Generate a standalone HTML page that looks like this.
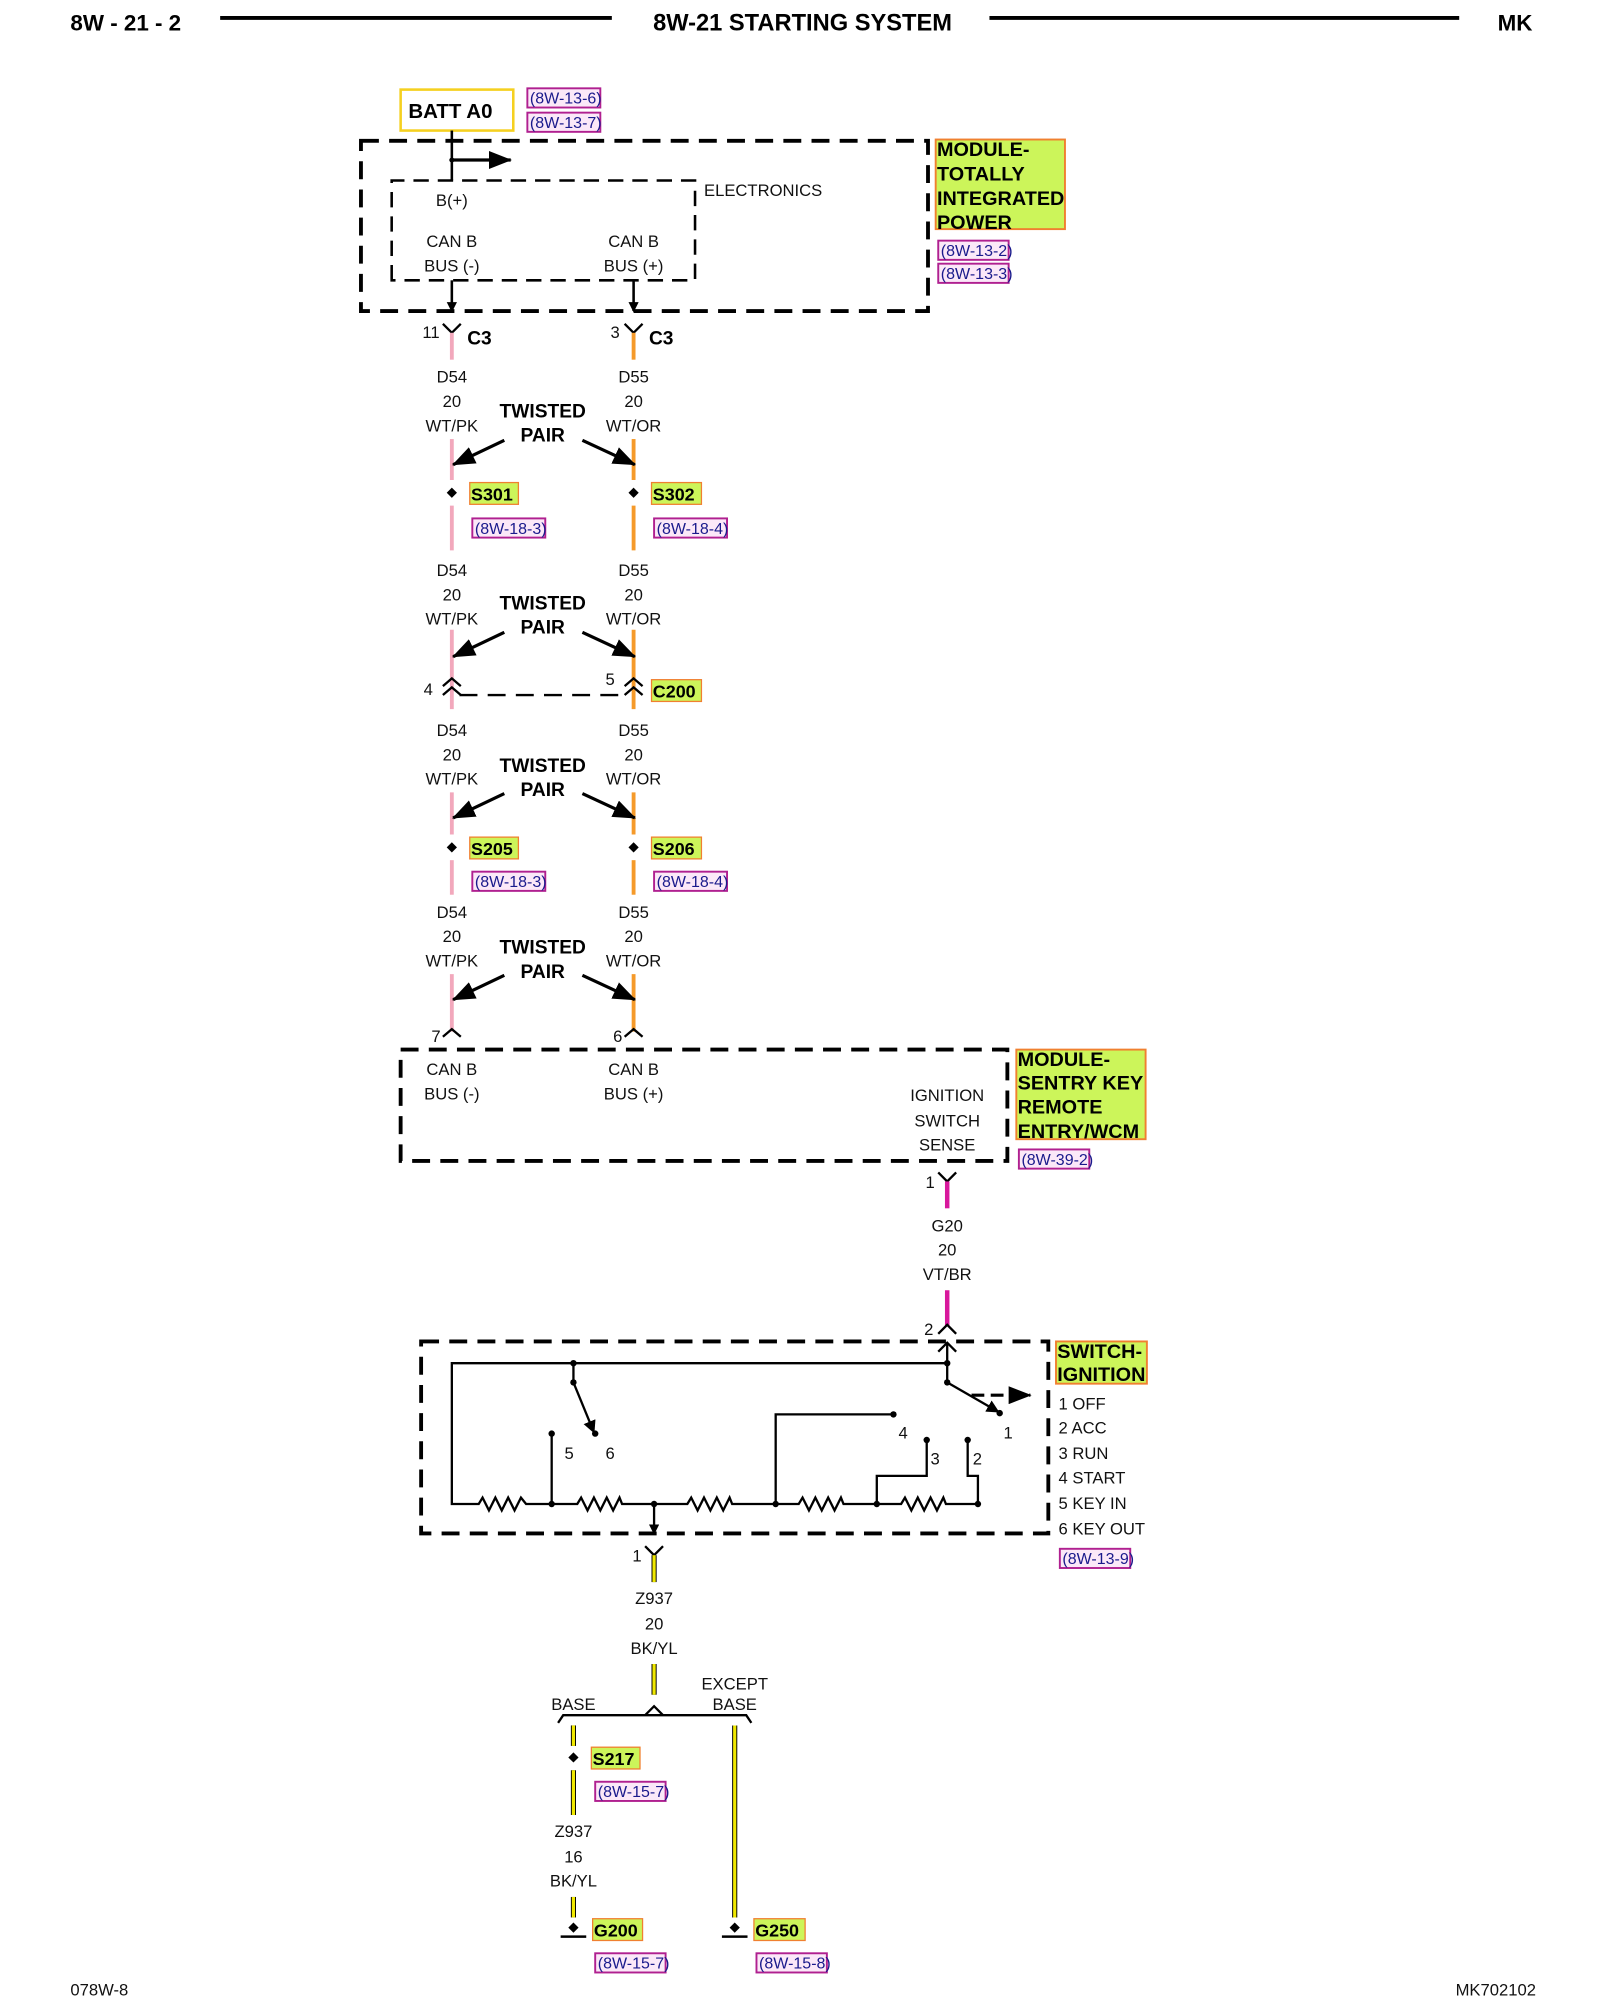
<!DOCTYPE html>
<html><head><meta charset="utf-8"><style>
html,body{margin:0;padding:0;background:#fff;}
svg{display:block;}
text{font-family:"Liberation Sans",sans-serif;}
.t{font-size:13px;fill:#111;}
.b{font-weight:bold;fill:#000;}
.r{font-size:12.5px;fill:#1a1a8c;}
.c{text-anchor:middle;}
</style></head><body>
<svg width="1600" height="2000" viewBox="0 0 1250 1562.5" xmlns="http://www.w3.org/2000/svg">
<defs>
<marker id="ah" markerWidth="10" markerHeight="10" refX="9" refY="5" orient="auto" markerUnits="userSpaceOnUse"><path d="M0,0 L10,5 L0,10 Z" fill="#000"/></marker>
<marker id="ab" markerWidth="18" markerHeight="14" refX="17" refY="7" orient="auto" markerUnits="userSpaceOnUse"><path d="M0,0 L18,7 L0,14 Z" fill="#000"/></marker>
<marker id="as" markerWidth="8" markerHeight="8" refX="7" refY="4" orient="auto" markerUnits="userSpaceOnUse"><path d="M0,0 L8,4 L0,8 Z" fill="#000"/></marker>
</defs>
<!-- header -->
<text x="55" y="24" class="b" font-size="17.5">8W - 21 - 2</text>
<line x1="172" y1="14" x2="478" y2="14" stroke="#000" stroke-width="3"/>
<text x="627" y="24" class="b c" font-size="18.5">8W-21 STARTING SYSTEM</text>
<line x1="773" y1="14" x2="1140" y2="14" stroke="#000" stroke-width="3"/>
<text x="1170" y="24" class="b" font-size="17.5">MK</text>
<text x="55" y="1559" class="t" font-size="12">078W-8</text>
<text x="1200" y="1559" class="t" font-size="12" text-anchor="end">MK702102</text>

<g transform="translate(-1,-2)">
<!-- BATT -->
<rect x="314" y="72" width="88" height="32" fill="#fff" stroke="#f5d020" stroke-width="2"/>
<text x="320" y="94" class="b" font-size="16">BATT A0</text>
<rect x="413" y="71" width="57" height="15" fill="#fbe8f8" stroke="#b02090" stroke-width="1.5"/><text x="415" y="83" class="r">(8W-13-6)</text>
<rect x="413" y="90" width="57" height="15" fill="#fbe8f8" stroke="#b02090" stroke-width="1.5"/><text x="415" y="102" class="r">(8W-13-7)</text>
<!-- TIPM -->
<rect x="283" y="112" width="443" height="133" fill="none" stroke="#000" stroke-width="3" stroke-dasharray="14 8"/>
<path d="M307,221 V143 H544 V221 Z" fill="none" stroke="#000" stroke-width="2" stroke-dasharray="12 7"/>
<line x1="354" y1="104" x2="354" y2="143" stroke="#000" stroke-width="2"/>
<line x1="354" y1="127" x2="400" y2="127" stroke="#000" stroke-width="2.5" marker-end="url(#ab)"/>
<circle cx="354" cy="127" r="2" fill="#000"/>
<text x="354" y="163" class="t c">B(+)</text>
<text x="354" y="195" class="t c">CAN B</text><text x="354" y="214" class="t c">BUS (-)</text>
<text x="496" y="195" class="t c">CAN B</text><text x="496" y="214" class="t c">BUS (+)</text>
<text x="551" y="155" class="t">ELECTRONICS</text>
<line x1="354" y1="221" x2="354" y2="245" stroke="#000" stroke-width="2" marker-end="url(#as)"/>
<line x1="496" y1="221" x2="496" y2="245" stroke="#000" stroke-width="2" marker-end="url(#as)"/>
<rect x="732" y="111" width="101" height="70" fill="#ccf55a" stroke="#f08030" stroke-width="1.5"/>
<text class="b" font-size="15.5"><tspan x="733" y="124">MODULE-</tspan><tspan x="733" y="143">TOTALLY</tspan><tspan x="733" y="162">INTEGRATED</tspan><tspan x="733" y="181">POWER</tspan></text>
<rect x="734" y="190" width="55" height="15" fill="#fbe8f8" stroke="#b02090" stroke-width="1.5"/><text x="736" y="202" class="r">(8W-13-2)</text>
<rect x="734" y="208" width="55" height="15" fill="#fbe8f8" stroke="#b02090" stroke-width="1.5"/><text x="736" y="220" class="r">(8W-13-3)</text>

<!-- C3 -->
<path d="M347,255 L354,262 L361,255 M354,262 V268" fill="none" stroke="#000" stroke-width="1.8"/>
<path d="M489,255 L496,262 L503,255 M496,262 V268" fill="none" stroke="#000" stroke-width="1.8"/>
<text x="331" y="266" class="t" font-size="12">11</text><text x="366" y="271" class="b" font-size="15">C3</text>
<text x="478" y="266" class="t" font-size="12">3</text><text x="508" y="271" class="b" font-size="15">C3</text>
<g stroke-width="3">
<line x1="354" y1="262" x2="354" y2="283" stroke="#f2a8bc"/>
<line x1="496" y1="262" x2="496" y2="283" stroke="#f59a2a"/>
<line x1="354" y1="345" x2="354" y2="377" stroke="#f2a8bc"/><line x1="496" y1="345" x2="496" y2="377" stroke="#f59a2a"/>
<line x1="354" y1="397" x2="354" y2="432" stroke="#f2a8bc"/><line x1="496" y1="397" x2="496" y2="432" stroke="#f59a2a"/>
<line x1="354" y1="494" x2="354" y2="556" stroke="#f2a8bc"/><line x1="496" y1="494" x2="496" y2="556" stroke="#f59a2a"/>
<line x1="354" y1="621" x2="354" y2="654" stroke="#f2a8bc"/><line x1="496" y1="621" x2="496" y2="654" stroke="#f59a2a"/>
<line x1="354" y1="674" x2="354" y2="701" stroke="#f2a8bc"/><line x1="496" y1="674" x2="496" y2="701" stroke="#f59a2a"/>
<line x1="354" y1="763" x2="354" y2="808" stroke="#f2a8bc"/><line x1="496" y1="763" x2="496" y2="808" stroke="#f59a2a"/>
</g>
<g class="t c">
<text x="354" y="301">D54</text><text x="354" y="320">20</text><text x="354" y="339">WT/PK</text>
<text x="496" y="301">D55</text><text x="496" y="320">20</text><text x="496" y="339">WT/OR</text>
<text x="354" y="452">D54</text><text x="354" y="471">20</text><text x="354" y="490">WT/PK</text>
<text x="496" y="452">D55</text><text x="496" y="471">20</text><text x="496" y="490">WT/OR</text>
<text x="354" y="577">D54</text><text x="354" y="596">20</text><text x="354" y="615">WT/PK</text>
<text x="496" y="577">D55</text><text x="496" y="596">20</text><text x="496" y="615">WT/OR</text>
<text x="354" y="719">D54</text><text x="354" y="738">20</text><text x="354" y="757">WT/PK</text>
<text x="496" y="719">D55</text><text x="496" y="738">20</text><text x="496" y="757">WT/OR</text>
</g>
<g class="b c" font-size="15">
<text x="425" y="328">TWISTED</text><text x="425" y="347">PAIR</text>
<text x="425" y="478">TWISTED</text><text x="425" y="497">PAIR</text>
<text x="425" y="605">TWISTED</text><text x="425" y="624">PAIR</text>
<text x="425" y="747">TWISTED</text><text x="425" y="766">PAIR</text>
</g>
<g stroke="#000" stroke-width="2.5">
<line x1="395" y1="346" x2="355" y2="365" marker-end="url(#ab)"/><line x1="456" y1="346" x2="497" y2="365" marker-end="url(#ab)"/>
<line x1="395" y1="496" x2="355" y2="515" marker-end="url(#ab)"/><line x1="456" y1="496" x2="497" y2="515" marker-end="url(#ab)"/>
<line x1="395" y1="622" x2="355" y2="641" marker-end="url(#ab)"/><line x1="456" y1="622" x2="497" y2="641" marker-end="url(#ab)"/>
<line x1="395" y1="764" x2="355" y2="783" marker-end="url(#ab)"/><line x1="456" y1="764" x2="497" y2="783" marker-end="url(#ab)"/>
</g>
<g fill="#000">
<path d="M354,383 l4,4 l-4,4 l-4,-4z"/><path d="M496,383 l4,4 l-4,4 l-4,-4z"/>
<path d="M354,660 l4,4 l-4,4 l-4,-4z"/><path d="M496,660 l4,4 l-4,4 l-4,-4z"/>
</g>
<g font-size="14" class="b">
<rect x="368" y="379" width="38" height="17" fill="#ccf55a" stroke="#f08030"/><text x="369" y="393">S301</text>
<rect x="510" y="379" width="39" height="17" fill="#ccf55a" stroke="#f08030"/><text x="511" y="393">S302</text>
<rect x="368" y="656" width="38" height="17" fill="#ccf55a" stroke="#f08030"/><text x="369" y="670">S205</text>
<rect x="510" y="656" width="39" height="17" fill="#ccf55a" stroke="#f08030"/><text x="511" y="670">S206</text>
<rect x="510" y="533" width="39" height="17" fill="#ccf55a" stroke="#f08030"/><text x="511" y="547">C200</text>
</g>
<rect x="370" y="407" width="57" height="15" fill="#fbe8f8" stroke="#b02090" stroke-width="1.5"/><text x="372" y="419" class="r">(8W-18-3)</text>
<rect x="512" y="407" width="57" height="15" fill="#fbe8f8" stroke="#b02090" stroke-width="1.5"/><text x="514" y="419" class="r">(8W-18-4)</text>
<rect x="370" y="683" width="57" height="15" fill="#fbe8f8" stroke="#b02090" stroke-width="1.5"/><text x="372" y="695" class="r">(8W-18-3)</text>
<rect x="512" y="683" width="57" height="15" fill="#fbe8f8" stroke="#b02090" stroke-width="1.5"/><text x="514" y="695" class="r">(8W-18-4)</text>
<g fill="none" stroke="#000" stroke-width="1.8">
<path d="M347,538 l7,-6 l7,6 M347,545 l7,-6 l7,6"/>
<path d="M489,538 l7,-6 l7,6 M489,545 l7,-6 l7,6"/>
<line x1="360" y1="545" x2="490" y2="545" stroke-dasharray="14 8"/>
<path d="M347,812 l7,-6 l7,6"/><path d="M489,812 l7,-6 l7,6"/>
</g>
<text x="332" y="545" class="t">4</text><text x="474" y="537" class="t">5</text>
<text x="338" y="816" class="t" font-size="12">7</text><text x="480" y="816" class="t" font-size="12">6</text>

<!-- WCM -->
<rect x="314" y="822" width="474" height="87" fill="none" stroke="#000" stroke-width="3" stroke-dasharray="14 8"/>
<text x="354" y="842" class="t c">CAN B</text><text x="354" y="861" class="t c">BUS (-)</text>
<text x="496" y="842" class="t c">CAN B</text><text x="496" y="861" class="t c">BUS (+)</text>
<text x="741" y="862" class="t c">IGNITION</text><text x="741" y="882" class="t c">SWITCH</text><text x="741" y="901" class="t c">SENSE</text>
<rect x="795" y="822" width="101" height="70" fill="#ccf55a" stroke="#f08030" stroke-width="1.5"/>
<text class="b" font-size="15.5"><tspan x="796" y="835">MODULE-</tspan><tspan x="796" y="853">SENTRY KEY</tspan><tspan x="796" y="872">REMOTE</tspan><tspan x="796" y="891">ENTRY/WCM</tspan></text>
<rect x="797" y="900" width="55" height="15" fill="#fbe8f8" stroke="#b02090" stroke-width="1.5"/><text x="799" y="912" class="r">(8W-39-2)</text>
<path d="M734,918 l7,7 l7,-7" fill="none" stroke="#000" stroke-width="1.8"/>
<text x="724" y="930" class="t" font-size="12">1</text>
<line x1="741" y1="925" x2="741" y2="946" stroke="#d8189c" stroke-width="3.5"/>
<text x="741" y="964" class="t c">G20</text><text x="741" y="983" class="t c">20</text><text x="741" y="1002" class="t c">VT/BR</text>
<line x1="741" y1="1010" x2="741" y2="1038" stroke="#d8189c" stroke-width="3.5"/>
<path d="M734,1044 l7,-7 l7,7" fill="none" stroke="#000" stroke-width="1.8"/>
<text x="723" y="1045" class="t" font-size="12">2</text>

<!-- Ignition switch -->
<rect x="330" y="1050" width="490" height="150" fill="none" stroke="#000" stroke-width="3" stroke-dasharray="14 8"/>
<rect x="826" y="1050" width="71" height="33" fill="#ccf55a" stroke="#f08030" stroke-width="1.5"/>
<text class="b" font-size="15.5"><tspan x="827" y="1063">SWITCH-</tspan><tspan x="827" y="1081">IGNITION</tspan></text>
<g class="t"><text x="828" y="1103">1 OFF</text><text x="828" y="1122">2 ACC</text><text x="828" y="1142">3 RUN</text><text x="828" y="1161">4 START</text><text x="828" y="1181">5 KEY IN</text><text x="828" y="1201">6 KEY OUT</text></g>
<rect x="829" y="1212" width="55" height="15" fill="#fbe8f8" stroke="#b02090" stroke-width="1.5"/><text x="831" y="1224" class="r">(8W-13-9)</text>
<g fill="none" stroke="#000" stroke-width="1.8">
<path d="M741,1067 H354 V1177 H375 l3,-5 l5,10 l5,-10 l5,10 l5,-10 l5,10 l5,-10 l4,5 H452 l3,-5 l5,10 l5,-10 l5,10 l5,-10 l5,10 l5,-10 l2,5 H538 l3,-5 l5,10 l5,-10 l5,10 l5,-10 l5,10 l5,-10 l2,5 H625 l3,-5 l5,10 l5,-10 l5,10 l5,-10 l5,10 l5,-10 l2,5 H705 l3,-5 l5,10 l5,-10 l5,10 l5,-10 l5,10 l5,-10 l2,5 H765"/>
<path d="M449,1067 V1082"/>
<path d="M432,1122 V1177"/>
<path d="M607,1177 V1107 H699"/>
<path d="M725,1127 V1155 H686 V1177"/>
<path d="M757,1127 V1155 H765 V1177"/>
<path d="M741,1067 V1082"/>
</g>
<line x1="741" y1="1067" x2="741" y2="1052" stroke="#000" stroke-width="1.8"/>
<path d="M734,1058 l7,-7 l7,7" fill="none" stroke="#000" stroke-width="1.8"/>
<line x1="449" y1="1082" x2="465" y2="1121" stroke="#000" stroke-width="1.8" marker-end="url(#ah)"/>
<line x1="741" y1="1082" x2="781" y2="1105" stroke="#000" stroke-width="1.8" marker-end="url(#ah)"/>
<line x1="760" y1="1092" x2="806" y2="1092" stroke="#000" stroke-width="2.5" stroke-dasharray="10 5" marker-end="url(#ab)"/>
<g fill="#000">
<circle cx="449" cy="1067" r="2.5"/><circle cx="449" cy="1082" r="2.5"/><circle cx="466" cy="1122" r="2.5"/>
<circle cx="432" cy="1122" r="2.5"/><circle cx="699" cy="1107" r="2.5"/><circle cx="725" cy="1127" r="2.5"/><circle cx="757" cy="1127" r="2.5"/>
<circle cx="741" cy="1067" r="2.5"/><circle cx="741" cy="1082" r="2.5"/><circle cx="782" cy="1106" r="2.5"/>
<circle cx="432" cy="1177" r="2.5"/><circle cx="512" cy="1177" r="2.5"/><circle cx="607" cy="1177" r="2.5"/><circle cx="686" cy="1177" r="2.5"/><circle cx="765" cy="1177" r="2.5"/>
</g>
<g class="t"><text x="442" y="1142">5</text><text x="474" y="1142">6</text><text x="703" y="1126">4</text><text x="728" y="1146">3</text><text x="761" y="1146">2</text><text x="785" y="1126">1</text></g>
<line x1="512" y1="1177" x2="512" y2="1200" stroke="#000" stroke-width="1.8" marker-end="url(#as)"/>

<!-- Ground section -->
<path d="M505,1210 l7,7 l7,-7" fill="none" stroke="#000" stroke-width="1.8"/>
<text x="495" y="1222" class="t" font-size="12">1</text>
<line x1="512" y1="1217" x2="512" y2="1238" stroke="#000" stroke-width="4"/><line x1="512" y1="1217" x2="512" y2="1238" stroke="#f0e800" stroke-width="2.5"/>
<text x="512" y="1255" class="t c">Z937</text><text x="512" y="1275" class="t c">20</text><text x="512" y="1294" class="t c">BK/YL</text>
<line x1="512" y1="1302" x2="512" y2="1326" stroke="#000" stroke-width="4"/><line x1="512" y1="1302" x2="512" y2="1326" stroke="#f0e800" stroke-width="2.5"/>
<path d="M505,1342 l7,-7 l7,7 M437,1348 l4,-6 H584 l4,6" fill="none" stroke="#000" stroke-width="1.8"/>
<text x="449" y="1338" class="t c">BASE</text>
<text x="575" y="1322" class="t c">EXCEPT</text><text x="575" y="1338" class="t c">BASE</text>
<g stroke-width="4" stroke="#000"><line x1="449" y1="1350" x2="449" y2="1366"/><line x1="449" y1="1385" x2="449" y2="1420"/><line x1="449" y1="1484" x2="449" y2="1500"/><line x1="575" y1="1350" x2="575" y2="1500"/></g>
<g stroke-width="2.5" stroke="#f0e800"><line x1="449" y1="1350" x2="449" y2="1366"/><line x1="449" y1="1385" x2="449" y2="1420"/><line x1="449" y1="1484" x2="449" y2="1500"/><line x1="575" y1="1350" x2="575" y2="1500"/></g>
<path d="M449,1371 l4,4 l-4,4 l-4,-4z" fill="#000"/>
<text x="449" y="1437" class="t c">Z937</text><text x="449" y="1457" class="t c">16</text><text x="449" y="1476" class="t c">BK/YL</text>
<g fill="#000"><path d="M449,1504 l4,4 l-4,4 l-4,-4z"/><path d="M575,1504 l4,4 l-4,4 l-4,-4z"/></g>
<g stroke="#000" stroke-width="2"><line x1="439" y1="1515" x2="459" y2="1515"/><line x1="565" y1="1515" x2="585" y2="1515"/></g>
<g font-size="14" class="b">
<rect x="463" y="1367" width="38" height="17" fill="#ccf55a" stroke="#f08030"/><text x="464" y="1381">S217</text>
<rect x="464" y="1501" width="39" height="17" fill="#ccf55a" stroke="#f08030"/><text x="465" y="1515">G200</text>
<rect x="590" y="1501" width="40" height="17" fill="#ccf55a" stroke="#f08030"/><text x="591" y="1515">G250</text>
</g>
<rect x="466" y="1394" width="55" height="15" fill="#fbe8f8" stroke="#b02090" stroke-width="1.5"/><text x="468" y="1406" class="r">(8W-15-7)</text>
<rect x="466" y="1528" width="55" height="15" fill="#fbe8f8" stroke="#b02090" stroke-width="1.5"/><text x="468" y="1540" class="r">(8W-15-7)</text>
<rect x="592" y="1528" width="55" height="15" fill="#fbe8f8" stroke="#b02090" stroke-width="1.5"/><text x="594" y="1540" class="r">(8W-15-8)</text>
</g>
</svg>
</body></html>
